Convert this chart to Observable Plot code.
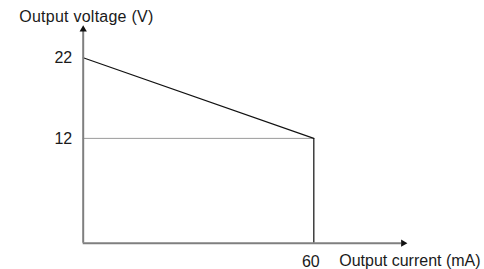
<!DOCTYPE html>
<html>
<head>
<meta charset="utf-8">
<script src="https://cdn.jsdelivr.net/npm/d3@7"></script>
<script src="https://cdn.jsdelivr.net/npm/@observablehq/plot@0.6"></script>
<style>
  html, body { margin: 0; padding: 0; background: #fff; }
</style>
</head>
<body>
<div id="chart"></div>
<script>
// Data
const currentMA = [0, 60];        // output current (mA)
const voltageV = [22, 12];        // output voltage (V)
const yTickValues = [22, 12];
const xTickValues = [60];
const yTitle = "Output voltage (V)";
const xTitle = "Output current (mA)";

// axis extents (schematic axes with arrowheads)
const xMin = 0, xMax = 84.3;
const yMin = -1, yMax = 26;

const points = currentMA.map((c, i) => ({current: c, voltage: voltageV[i]}));
const axisGray = "#7f7f7f";
const font = "Liberation Sans, Arial, sans-serif";

const chart = Plot.plot({
  width: 484,
  height: 269,
  marginLeft: 82.7,
  marginRight: 77.3,
  marginTop: 25,
  marginBottom: 26.3,
  style: {fontFamily: font, fontSize: "16px", background: "#fff", color: "#111"},
  x: {domain: [xMin, xMax], axis: null},
  y: {domain: [yMin, yMax], axis: null},
  marks: [
    // horizontal guide at the 12 V level
    Plot.ruleY([voltageV[1]], {x1: currentMA[0], x2: currentMA[1], stroke: "#9a9a9a", strokeWidth: 1}),
    // drop line at 60 mA
    Plot.ruleX([currentMA[1]], {y1: yMin, y2: voltageV[1], stroke: "#222", strokeWidth: 1.3}),
    // characteristic line
    Plot.line(points, {x: "current", y: "voltage", stroke: "#111", strokeWidth: 1.1}),
    // axes
    Plot.ruleX([xMin], {y1: yMin, y2: yMax - 0.5, stroke: axisGray, strokeWidth: 2}),
    Plot.ruleY([yMin], {x1: xMin, x2: xMax - 1.5, stroke: axisGray, strokeWidth: 2}),
    // arrowheads
    Plot.dot([{x: xMin, y: yMax}], {x: "x", y: "y", symbol: "triangle", r: 2.7, fill: "#111", stroke: "none", dy: 4}),
    Plot.dot([{x: xMax, y: yMin}], {x: "x", y: "y", symbol: "triangle", r: 2.7, fill: "#111", stroke: "none", rotate: 90, dx: -4}),
    // tick labels
    Plot.text(yTickValues, {y: d => d, text: d => String(d), frameAnchor: "left", dx: -11, textAnchor: "end", lineAnchor: "middle", fontSize: 16, fill: "#1a1a1a"}),
    Plot.text(xTickValues, {x: d => d, text: d => String(d), frameAnchor: "bottom", dx: -3, dy: 19, textAnchor: "middle", lineAnchor: "middle", fontSize: 16, fill: "#1a1a1a"}),
    // axis titles
    Plot.text([yTitle], {frameAnchor: "top-left", dx: -64, dy: -9, textAnchor: "start", lineAnchor: "middle", fontSize: 16, fill: "#1a1a1a"}),
    Plot.text([xTitle], {frameAnchor: "bottom-right", dx: -68, dy: 17.5, textAnchor: "start", lineAnchor: "middle", fontSize: 16, fill: "#1a1a1a"})
  ]
});
// slightly wider tracking on the vertical-axis title, as in the reference
d3.select(chart).selectAll("text").filter(function() { return this.textContent === yTitle; })
  .style("letter-spacing", "0.25px");
document.getElementById("chart").appendChild(chart);
</script>
</body>
</html>
